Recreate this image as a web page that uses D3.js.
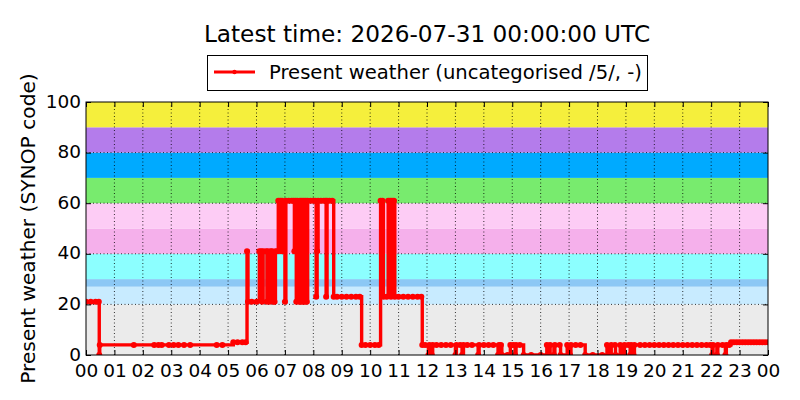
<!DOCTYPE html>
<html>
<head>
<meta charset="utf-8">
<script src="https://cdn.jsdelivr.net/npm/d3@7"></script>
<style>
  body { margin: 0; background: #fff; }
  svg { font-family: "DejaVu Sans", sans-serif; }
</style>
</head>
<body>
<svg id="chart" width="800" height="400"></svg>
<script>
// observation times (UTC, HH:MM) and the SYNOP present weather code at each
var obsTimes = [
  "00:00","00:10","00:20","00:27","00:28","00:29","01:41","02:24","02:33","02:40",
  "02:55","03:05","03:15","03:27","03:40","04:36","04:48","05:11","05:20","05:30",
  "05:37","05:40","05:42","05:50","06:00","06:06","06:10","06:12","06:14","06:20",
  "06:22","06:24","06:28","06:30","06:33","06:36","06:38","06:40","06:44","06:46",
  "06:50","06:52","06:54","06:58","07:00","07:02","07:08","07:14","07:18","07:20",
  "07:22","07:24","07:26","07:28","07:30","07:32","07:34","07:36","07:38","07:40",
  "07:42","07:44","07:46","07:48","07:54","08:00","08:04","08:06","08:08","08:10",
  "08:16","08:22","08:26","08:27","08:29","08:34","08:40","08:43","08:50","09:00",
  "09:10","09:20","09:30","09:38","09:42","09:50","10:00","10:10","10:18","10:22",
  "10:26","10:28","10:35","10:38","10:42","10:44","10:46","10:50","10:52","11:00",
  "11:10","11:20","11:30","11:40","11:48","11:50","11:56","12:03","12:05","12:10",
  "12:12","12:20","12:30","12:40","12:50","13:00","13:02","13:10","13:14","13:17",
  "13:25","13:35","13:48","13:50","14:00","14:10","14:20","14:30","14:32","14:36",
  "14:38","14:50","14:56","15:02","15:06","15:08","15:16","15:24","15:40","16:00",
  "16:13","16:18","16:20","16:28","16:30","16:40","16:42","16:56","17:02","17:04",
  "17:14","17:24","17:34","17:50","18:10","18:20","18:27","18:29","18:37","18:38",
  "18:48","18:55","18:57","19:05","19:09","19:11","19:16","19:18","19:30","19:40",
  "19:50","20:00","20:10","20:20","20:30","20:40","20:50","21:00","21:10","21:20",
  "21:30","21:40","21:50","21:58","22:02","22:04","22:12","22:14","22:24","22:30",
  "22:32","22:38","22:42","22:48","22:54","23:00","23:06","23:12","23:18","23:24",
  "23:30","23:36","23:42","23:48","23:54","24:00"
];
var codes = [
  21,21,21,21,0,4,4,4,4,4,
  4,4,4,4,4,4,4,5,5,5,
  5,41,21,21,21,41,41,21,41,41,
  21,41,21,41,41,21,21,41,41,61,
  61,41,61,41,21,61,61,61,61,41,
  61,21,61,41,21,61,21,61,21,61,
  21,61,21,61,61,61,61,23,41,61,
  61,61,61,23,61,61,61,23,23,23,
  23,23,23,23,4,4,4,4,4,61,
  61,23,23,61,61,23,61,61,23,23,
  23,23,23,23,23,4,4,0,4,0,
  4,4,4,4,4,0,4,4,0,4,
  4,4,0,4,4,4,4,0,4,4,
  0,0,4,4,0,4,4,0,0,0,
  4,0,4,0,4,4,0,4,0,4,
  4,4,0,0,0,4,0,4,4,0,
  4,0,4,4,0,4,0,4,4,4,
  4,4,4,4,4,4,4,4,4,4,
  4,4,4,4,0,4,0,4,4,0,
  4,4,5,5,5,5,5,5,5,5,
  5,5,5,5,5,5
];

// background bands: SYNOP code ranges and colours
var bandLower  = [0, 20, 27, 30, 40, 50, 60, 70, 80, 90];
var bandUpper  = [20, 27, 30, 40, 50, 60, 70, 80, 90, 100];
var bandColors = ["#ebebeb","#c8ebff","#8cc8f5","#8cffff","#f5b0eb",
                  "#fdccf5","#78eb6e","#00aaff","#b47ceb","#f5ef3c"];

var yTicks = [0, 20, 40, 60, 80, 100];
var hourTicks = d3.range(0, 25);

var title = "Latest time: 2026-07-31 00:00:00 UTC";
var seriesName = "Present weather (uncategorised /5/, -)";
var yLabel = "Present weather (SYNOP code)";

var margin = {left: 86, right: 32, top: 102, bottom: 45};
var W = 800, H = 400;

var svg = d3.select("#chart");

var x = d3.scaleLinear().domain([0, 24]).range([margin.left, W - margin.right]);
var y = d3.scaleLinear().domain([0, 100]).range([H - margin.bottom, margin.top]);

function toHours(s) {
  var p = s.split(":");
  return +p[0] + (+p[1]) / 60;
}
var data = obsTimes.map(function(t, i) { return {h: toHours(t), v: codes[i]}; });

svg.append("defs").append("clipPath").attr("id", "plotclip")
  .append("rect")
  .attr("x", x(0)).attr("y", y(100))
  .attr("width", x(24) - x(0)).attr("height", y(0) - y(100));

// bands
svg.append("g").selectAll("rect")
  .data(bandLower)
  .enter().append("rect")
  .attr("x", x(0))
  .attr("width", x(24) - x(0))
  .attr("y", function(d, i) { return y(bandUpper[i]); })
  .attr("height", function(d, i) { return y(d) - y(bandUpper[i]); })
  .attr("fill", function(d, i) { return bandColors[i]; });

// grid
var grid = svg.append("g").attr("stroke", "#000").attr("stroke-width", 0.8)
  .attr("stroke-dasharray", "1,2.5");
grid.selectAll(".gx").data(hourTicks.slice(1, -1)).enter().append("line")
  .attr("x1", function(d) { return x(d); }).attr("x2", function(d) { return x(d); })
  .attr("y1", y(0)).attr("y2", y(100));
grid.selectAll(".gy").data(yTicks.slice(1, -1)).enter().append("line")
  .attr("y1", function(d) { return y(d); }).attr("y2", function(d) { return y(d); })
  .attr("x1", x(0)).attr("x2", x(24));

// series
var plot = svg.append("g").attr("clip-path", "url(#plotclip)");
var line = d3.line()
  .x(function(d) { return x(d.h); })
  .y(function(d) { return y(d.v); })
  .curve(d3.curveStepAfter);
plot.append("path").datum(data)
  .attr("d", line)
  .attr("fill", "none")
  .attr("stroke", "#ff0000")
  .attr("stroke-width", 3.4);
plot.selectAll("circle").data(data).enter().append("circle")
  .attr("cx", function(d) { return x(d.h); })
  .attr("cy", function(d) { return y(d.v); })
  .attr("r", 3)
  .attr("fill", "#ff0000");

// frame
svg.append("rect")
  .attr("x", x(0)).attr("y", y(100))
  .attr("width", x(24) - x(0)).attr("height", y(0) - y(100))
  .attr("fill", "none").attr("stroke", "#000").attr("stroke-width", 1);

// axes with inward ticks
var xAxis = d3.axisBottom(x).tickValues(hourTicks)
  .tickFormat(function(d) { return d3.format("02d")(d % 24); })
  .tickSizeInner(-5).tickSizeOuter(0).tickPadding(9);
var gx = svg.append("g").attr("transform", "translate(0," + y(0) + ")").call(xAxis);
gx.select(".domain").remove();
gx.selectAll("text").attr("font-size", 18.5).attr("fill", "#000")
  .attr("font-family", "DejaVu Sans");

var xTop = d3.axisTop(x).tickValues(hourTicks).tickFormat("").tickSizeInner(-5).tickSizeOuter(0);
var gxt = svg.append("g").attr("transform", "translate(0," + y(100) + ")").call(xTop);
gxt.select(".domain").remove();

var yAxis = d3.axisLeft(y).tickValues(yTicks).tickSizeInner(-5).tickSizeOuter(0).tickPadding(5);
var gy = svg.append("g").attr("transform", "translate(" + x(0) + ",0)").call(yAxis);
gy.select(".domain").remove();
gy.selectAll("text").attr("font-size", 18.5).attr("fill", "#000")
  .attr("font-family", "DejaVu Sans")
  .attr("dy", "0.28em");

var yRight = d3.axisRight(y).tickValues(yTicks).tickFormat("").tickSizeInner(-5).tickSizeOuter(0);
var gyr = svg.append("g").attr("transform", "translate(" + x(24) + ",0)").call(yRight);
gyr.select(".domain").remove();

// y label
svg.append("text")
  .attr("transform", "translate(35," + (y(50)) + ") rotate(-90)")
  .attr("text-anchor", "middle")
  .attr("font-size", 20.2)
  .text(yLabel);

// title
svg.append("text")
  .attr("x", (x(0) + x(24)) / 2).attr("y", 42)
  .attr("text-anchor", "middle")
  .attr("font-size", 23.2)
  .text(title);

// legend
var lg = svg.append("g");
lg.append("rect").attr("x", 207.5).attr("y", 55.5).attr("width", 440).attr("height", 35)
  .attr("fill", "#fff").attr("stroke", "#000").attr("stroke-width", 1);
lg.append("line").attr("x1", 214).attr("x2", 255).attr("y1", 72).attr("y2", 72)
  .attr("stroke", "#ff0000").attr("stroke-width", 3);
lg.append("circle").attr("cx", 234.5).attr("cy", 72).attr("r", 2.2).attr("fill", "#ff0000");
lg.append("text").attr("x", 269).attr("y", 79).attr("font-size", 19.6).text(seriesName);
</script>
</body>
</html>
